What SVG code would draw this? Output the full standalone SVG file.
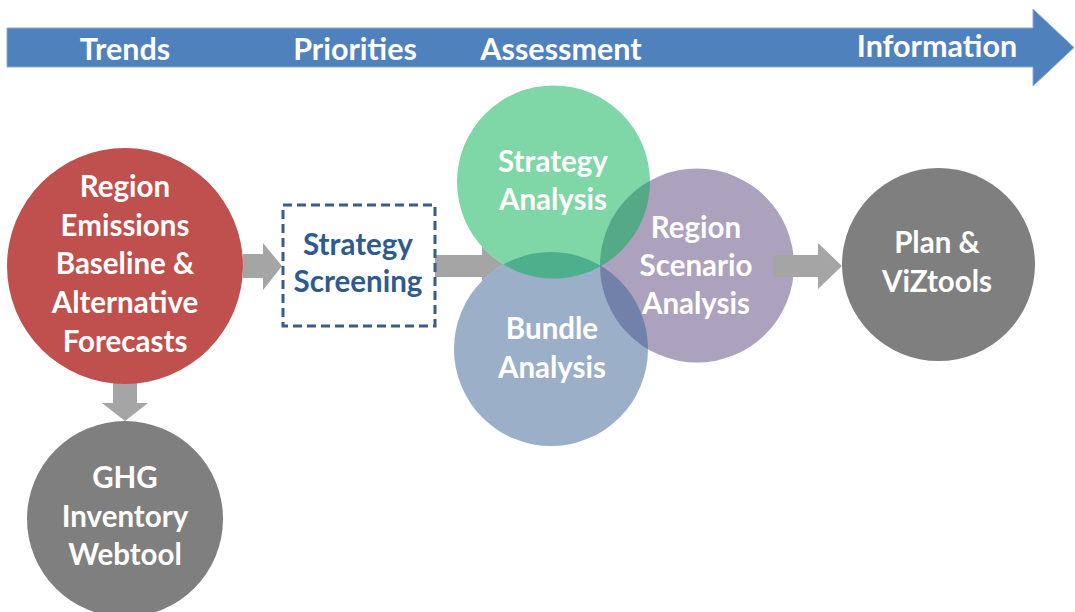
<svg xmlns="http://www.w3.org/2000/svg" width="1075" height="612" viewBox="0 0 1075 612">
<style>
text{font-family:Lato,"Open Sans","Liberation Sans",sans-serif;font-weight:bold;font-size:29.5px;text-anchor:middle}
.w{fill:#ffffff}
.hdr{fill:#ffffff;font-size:30.5px}
.blue{fill:#2F5A8F}
.conn{fill:#A5A5A5}
.mask{fill:#ffffff}
</style>
<rect width="1075" height="612" fill="#ffffff"/>
<g id="timeline">
<polygon points="7,28 1033,28 1033,9 1074,47.5 1033,86 1033,67 7,67" fill="#4F81BD" stroke="#8AAAD6" stroke-width="1"/>
<text class="hdr" x="125" y="60">Trends</text>
<text class="hdr" x="355" y="60">Priorities</text>
<text class="hdr" x="561" y="60">Assessment</text>
<text class="hdr" x="937" y="57">Information</text>
</g>
<g id="connectors">
<polygon class="conn" points="243,254 263,254 263,243 282,266 263,290 263,278 243,278"/>
<polygon class="conn" points="113,383 137,383 137,403 148,403 125,421 102,403 113,403"/>
<polygon class="conn" points="435,255 482,255 482,243 505,266 482,289 482,277 435,277"/>
</g>
<g id="node-region-emissions">
<circle cx="125" cy="266" r="118" fill="#C0504D"/>
<text class="w" x="125" y="197">Region</text>
<text class="w" x="125" y="236">Emissions</text>
<text class="w" x="125" y="274">Baseline &amp;</text>
<text class="w" x="125" y="313">Alternative</text>
<text class="w" x="125" y="352">Forecasts</text>
</g>
<g id="node-ghg">
<circle cx="125" cy="519" r="98" fill="#7F7F7F"/>
<text class="w" x="125" y="488">GHG</text>
<text class="w" x="125" y="527">Inventory</text>
<text class="w" x="125" y="565">Webtool</text>
</g>
<g id="node-screening">
<rect x="283" y="205" width="152" height="121" fill="#ffffff" stroke="#385D8A" stroke-width="3" stroke-dasharray="9,5"/>
<text class="blue" x="358" y="255">Strategy</text>
<text class="blue" x="358" y="292">Screening</text>
</g>
<g id="assessment-backdrop">
<circle class="mask" cx="697" cy="265.5" r="97"/>
<circle class="mask" cx="551" cy="349" r="97"/>
<circle class="mask" cx="553.5" cy="182" r="96.5"/>
</g>
<g id="node-scenario">
<circle cx="697" cy="265.5" r="97" fill="#5B457D" fill-opacity="0.5"/>
</g>
<g id="node-bundle">
<circle cx="551" cy="349" r="97" fill="#375F93" fill-opacity="0.5"/>
</g>
<g id="node-strategy-analysis">
<circle cx="553.5" cy="182" r="96.5" fill="#00B050" fill-opacity="0.5"/>
</g>
<g id="labels-assessment">
<text class="w" x="553" y="172">Strategy</text>
<text class="w" x="553" y="210">Analysis</text>
<text class="w" x="552" y="339">Bundle</text>
<text class="w" x="552" y="378">Analysis</text>
<text class="w" x="696" y="238">Region</text>
<text class="w" x="696" y="276">Scenario</text>
<text class="w" x="696" y="314">Analysis</text>
</g>
<g id="connectors-top">
<polygon class="conn" points="773,255 818,255 818,243 842,266 818,289 818,277 773,277"/>
</g>
<g id="node-plan">
<circle cx="938.5" cy="264.5" r="96.5" fill="#7F7F7F"/>
<text class="w" x="937" y="253">Plan &amp;</text>
<text class="w" x="937" y="292">ViZtools</text>
</g>
</svg>
